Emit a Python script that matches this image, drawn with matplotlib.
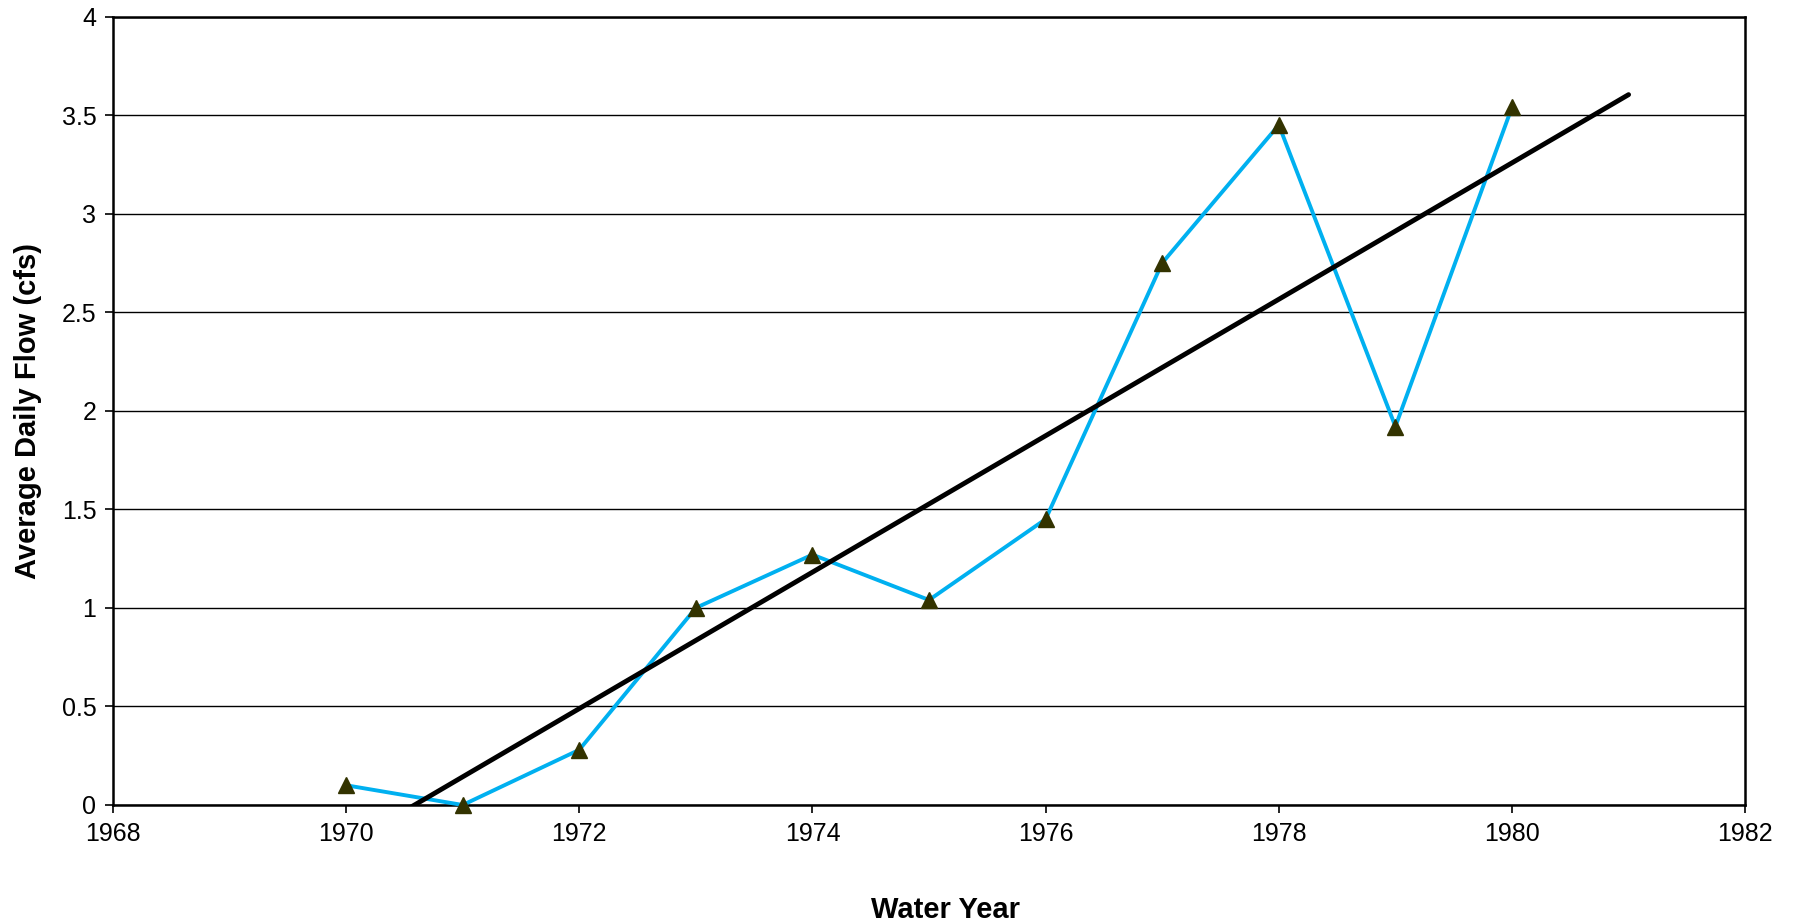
import matplotlib.pyplot as plt
import numpy as np

plt.rcParams['font.family'] = ['Liberation Sans', 'DejaVu Sans']

anos = [1970, 1971, 1972, 1973, 1974, 1975, 1976, 1977, 1978, 1979, 1980]
vazao = [0.1, 0.0, 0.28, 1.0, 1.27, 1.04, 1.45, 2.75, 3.45, 1.92, 3.54]

# linha de tendencia linear (estendida ate 1981)
coef = np.polyfit(anos, vazao, 1)
xt = np.array([1970, 1981])
yt = np.polyval(coef, xt)

fig = plt.figure(figsize=(18.01, 9.24), dpi=100)
ax = fig.add_axes([0.0627, 0.1288, 0.9063, 0.8533])

ax.grid(axis='y', color='black', linewidth=1.0)
ax.set_axisbelow(True)
ax.plot(anos, vazao, color='#00B0F0', linewidth=2.8, marker='^', markersize=11,
        markerfacecolor='#333300', markeredgecolor='#333300', zorder=3, clip_on=False)
ax.plot(xt, yt, color='black', linewidth=3.5, solid_capstyle='round', zorder=4)

ax.set_xlim(1968, 1982)
ax.set_ylim(0, 4)
ax.set_xticks(range(1968, 1983, 2))
ax.set_yticks([0, 0.5, 1, 1.5, 2, 2.5, 3, 3.5, 4])
ax.set_yticklabels(['0', '0.5', '1', '1.5', '2', '2.5', '3', '3.5', '4'])
ax.tick_params(labelsize=18, length=6, width=1.2, pad=6)
for s in ax.spines.values():
    s.set_linewidth(1.8)

ax.set_xlabel('Water Year', fontsize=21, fontweight='bold', labelpad=36)
ax.xaxis.label.set_x(0.51)
ax.set_ylabel('Average Daily Flow (cfs)', fontsize=21, fontweight='bold', labelpad=14)

fig.savefig('out.png', dpi=100, facecolor='white')
